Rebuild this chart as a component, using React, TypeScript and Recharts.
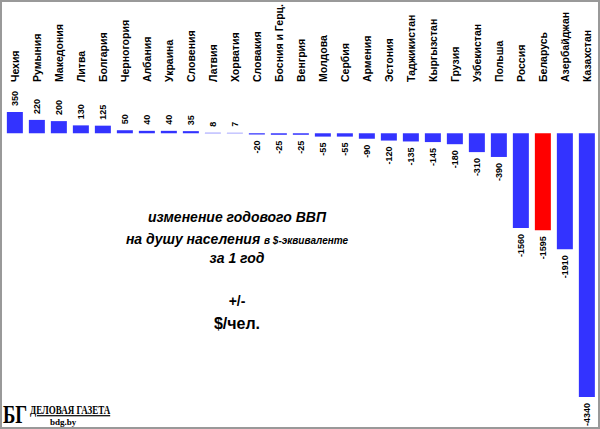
import React from "react";
import { BarChart, Bar, XAxis, YAxis, Cell, LabelList } from "recharts";

const countries = ["Чехия","Румыния","Македония","Литва","Болгария","Черногория","Албания","Украина","Словения","Латвия","Хорватия","Словакия","Босния и Герц.","Венгрия","Молдова","Сербия","Армения","Эстония","Таджикистан","Кыргызстан","Грузия","Узбекистан","Польша","Россия","Беларусь","Азербайджан","Казахстан"];
const values = [350,220,200,130,125,50,40,40,35,8,7,-20,-25,-25,-55,-55,-90,-120,-135,-145,-180,-310,-390,-1560,-1595,-1910,-4340];
const highlight = "Беларусь";

const data = countries.map((name, i) => ({ name, value: values[i] }));
const FONT = "'Liberation Sans Narrow', 'Liberation Sans', Arial, sans-serif";

const Tick = (p: any) => (
  <text transform={`translate(${p.x + 4},82) rotate(-90)`} textAnchor="start" fontFamily={FONT} fontWeight="bold" fontSize={10.5} fill="#000">
    {p.payload.value}
  </text>
);

const ValLabel = (p: any) => {
  const { x, y, width, height, value } = p;
  const top = Math.min(y, y + height);
  const bot = Math.max(y, y + height);
  const cx = x + width / 2 + 3;
  if (value >= 0)
    return <text transform={`translate(${cx},${top - 6}) rotate(-90)`} textAnchor="start" fontFamily={FONT} fontWeight="bold" fontSize={9}>{value}</text>;
  return <text transform={`translate(${cx},${bot + 6}) rotate(-90)`} textAnchor="end" fontFamily={FONT} fontWeight="bold" fontSize={9}>{value}</text>;
};

export default function App() {
  return (
    <div style={{ position: "absolute", left: 0, top: 0, width: 600, height: 429, background: "#fff", boxSizing: "border-box", border: "2px solid #999" }}>
      <div style={{ position: "absolute", left: -2, top: -2 }}>
        <BarChart width={600} height={429} data={data} margin={{ top: 0, right: 2, bottom: 32, left: 4 }} barCategoryGap="13%">
          <XAxis dataKey="name" orientation="top" height={112} axisLine={false} tickLine={false} tick={<Tick />} interval={0} />
          <YAxis hide domain={[-4340, 350]} />
          <Bar dataKey="value" isAnimationActive={false}>
            {data.map((d) => <Cell key={d.name} fill={d.name === highlight ? "#ff0000" : "#3333ff"} />)}
            <LabelList dataKey="value" content={<ValLabel />} />
          </Bar>
          <g fontFamily={FONT} fontWeight="bold" fontStyle="italic" textAnchor="middle" fill="#000">
            <text x={237} y={222} fontSize={14}>изменение годового ВВП</text>
            <text x={237} y={244} fontSize={14}>на душу населения <tspan fontSize={10}>в $-эквиваленте</tspan></text>
            <text x={237} y={263} fontSize={14}>за 1 год</text>
            <text x={237} y={306} fontSize={14} fontStyle="normal">+/-</text>
            <text x={237} y={329} fontSize={16} fontStyle="normal">$/чел.</text>
          </g>
          <g fontFamily="'Liberation Serif', serif" fontWeight="bold" fill="#000">
            <text x={3} y={423} fontSize={26} transform="translate(3,423) scale(0.72,1) translate(-3,-423)">БГ</text>
            <text x={30} y={414} fontSize={12} textDecoration="underline" transform="translate(30,414) scale(0.75,1) translate(-30,-414)">ДЕЛОВАЯ ГАЗЕТА</text>
            <text x={50} y={425} fontSize={9}>bdg.by</text>
          </g>
        </BarChart>
      </div>
    </div>
  );
}
